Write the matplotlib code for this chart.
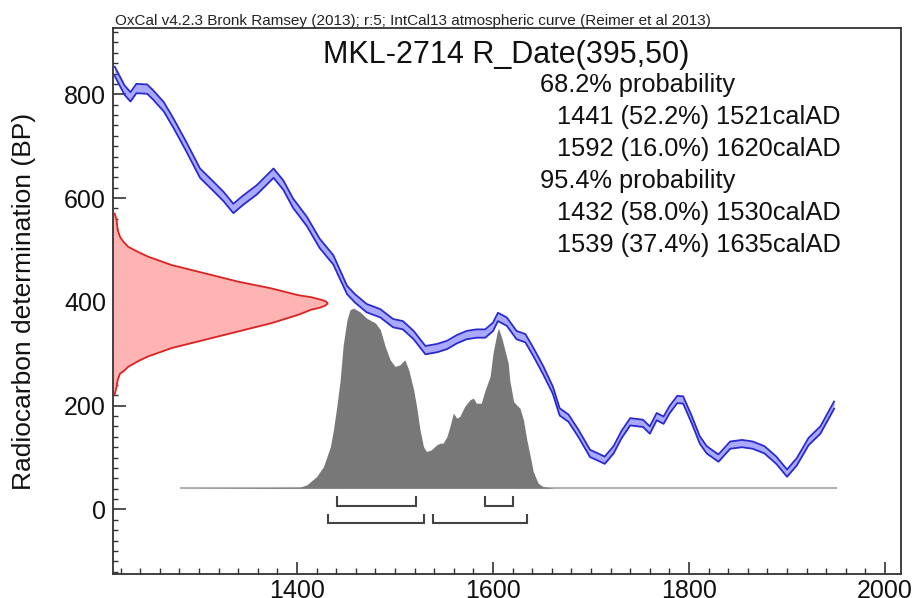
import matplotlib
matplotlib.use("Agg")
import matplotlib.pyplot as plt
import numpy as np

plt.rcParams['font.family'] = ['Liberation Sans', 'DejaVu Sans']

# ---------------- data ----------------
# calibration curve (IntCal13), cal AD vs radiocarbon BP
curve_year = [1214, 1224, 1230, 1236, 1247, 1253, 1264, 1274, 1287, 1301, 1315, 1325,
              1335, 1345, 1359, 1376, 1386, 1396, 1410, 1423, 1437, 1451, 1459, 1471,
              1485, 1498, 1508, 1519, 1531, 1543, 1553, 1563, 1573, 1583, 1592, 1600,
              1605, 1614, 1624, 1633, 1641, 1651, 1661, 1668, 1677, 1687, 1699, 1706,
              1714, 1723, 1731, 1740, 1753, 1760, 1767, 1774, 1780, 1788, 1794, 1803,
              1811, 1818, 1830, 1842, 1854, 1865, 1877, 1889, 1900, 1910, 1922, 1934, 1948]
curve_bp = [844, 808, 795, 811, 810, 799, 776, 744, 699, 648, 622, 603,
            580, 596, 616, 648, 625, 590, 555, 513, 481, 423, 407, 388,
            378, 359, 355, 336, 307, 311, 317, 328, 336, 339, 339, 352,
            371, 362, 336, 330, 304, 269, 230, 188, 176, 147, 108, 102,
            95, 115, 144, 169, 166, 153, 179, 172, 192, 212, 211, 172,
            134, 115, 99, 124, 127, 124, 115, 95, 70, 92, 131, 153, 201]
curve_err = [9, 9, 9, 9, 9, 9, 9, 9, 9, 9, 9, 9,
             9, 9, 9, 9, 9, 9, 9, 9, 9, 8, 8, 8,
             8, 8, 8, 8, 8, 8, 8, 8, 8, 8, 8, 8,
             8, 8, 8, 8, 8, 8, 7, 7, 7, 7, 7, 7,
             7, 7, 7, 7, 7, 7, 7, 7, 7, 7, 7, 7,
             7, 7, 7, 7, 7, 7, 7, 7, 7, 7, 7, 7, 7]

# measured radiocarbon date distribution R_Date(395,50) (relative density)
meas_bp = [222, 237, 250, 262, 266, 275, 286, 295, 311, 327, 343, 359, 375, 385, 389,
           393, 397, 400.5, 404, 409, 413, 426, 439, 455, 471, 487, 496, 506, 516,
           525, 538, 557, 570]
meas_dens = [0.008, 0.017, 0.022, 0.033, 0.048, 0.071, 0.118, 0.164, 0.273, 0.428,
             0.583, 0.738, 0.862, 0.924, 0.965, 0.99, 1.0, 0.994, 0.971, 0.924, 0.862,
             0.738, 0.583, 0.428, 0.273, 0.164, 0.118, 0.071, 0.048, 0.033, 0.022,
             0.017, 0.008]

# calibrated date distribution (relative probability)
cal_year = [1282, 1403, 1410, 1420, 1427, 1434, 1437, 1440.5, 1444, 1447, 1451, 1454,
            1457.5, 1464, 1471, 1480, 1485, 1490, 1495, 1500, 1505, 1510, 1514,
            1519, 1522, 1525.5, 1529, 1532, 1537, 1542.5, 1546, 1549, 1553, 1556,
            1559.5, 1563, 1566, 1571, 1576.5, 1580, 1583, 1588, 1592, 1597, 1600,
            1604, 1605.5, 1609, 1612, 1615.5, 1617, 1621, 1624, 1627.5, 1631, 1634.5,
            1638, 1641, 1646, 1651, 1662, 1950]
cal_prob = [0.0, 0.005, 0.019, 0.065, 0.12, 0.23, 0.32, 0.45, 0.60, 0.79, 0.935, 0.99,
            1.0, 0.98, 0.944, 0.917, 0.88, 0.787, 0.713, 0.676, 0.685, 0.713, 0.657,
            0.546, 0.454, 0.324, 0.231, 0.204, 0.213, 0.241, 0.25, 0.25, 0.287, 0.343,
            0.417, 0.389, 0.398, 0.454, 0.491, 0.5, 0.472, 0.472, 0.546, 0.62, 0.75,
            0.861, 0.889, 0.833, 0.769, 0.694, 0.602, 0.481, 0.463, 0.444, 0.38, 0.269,
            0.176, 0.093, 0.028, 0.009, 0.0, 0.0]

# highest probability density ranges
ranges_68 = [(1441, 1521), (1592, 1620)]
ranges_95 = [(1432, 1530), (1539, 1635)]

top_note = "OxCal v4.2.3 Bronk Ramsey (2013); r:5; IntCal13 atmospheric curve (Reimer et al 2013)"
title = "MKL-2714 R_Date(395,50)"
stats_lines = ["68.2% probability",
               "1441 (52.2%) 1521calAD",
               "1592 (16.0%) 1620calAD",
               "95.4% probability",
               "1432 (58.0%) 1530calAD",
               "1539 (37.4%) 1635calAD"]
stats_indent = [False, True, True, False, True, True]

# ---------------- figure ----------------
W, H = 915, 598
fig = plt.figure(figsize=(W / 100, H / 100), dpi=100)
L, R, T, B = 113, 901, 28, 574
ax = fig.add_axes([L / W, 1 - B / H, (R - L) / W, (B - T) / H])

xmin, xmax = 1212.2, 2016.3
ymin, ymax = -124.3, 927.7
ax.set_xlim(xmin, xmax)
ax.set_ylim(ymin, ymax)

# calibrated distribution
base = 41
scale = 347
cy = np.array(cal_year)
cp = np.array(cal_prob)
ax.plot([cal_year[0], cal_year[-1]], [base, base], color='#b0b0b0', lw=1.5, zorder=2)
ax.fill_between(cy, base, base + cp * scale, color='#787878', lw=0, zorder=3)

# measurement distribution on the y axis
mb = np.array(meas_bp)
md = np.array(meas_dens)
red_w = 219
ax.fill_betweenx(mb, xmin, xmin + md * red_w, color='#ffb4b4', lw=0, zorder=2)
ax.plot(xmin + md * red_w, mb, color='#dd2222', lw=1.3, zorder=4)

# calibration curve band
yr = np.array(curve_year)
bp = np.array(curve_bp)
er = np.array(curve_err)
ax.fill_between(yr, bp - er, bp + er, color='#5555ff', alpha=0.5, lw=0, zorder=5)
ax.plot(yr, bp + er, color='#2a2ad0', lw=1.3, zorder=6)
ax.plot(yr, bp - er, color='#2a2ad0', lw=1.3, zorder=6)

# range brackets
def bracket(r, ylow, yhigh):
    ax.plot([r[0], r[0], r[1], r[1]], [yhigh, ylow, ylow, yhigh],
            color='#444444', lw=1.5, zorder=4, solid_joinstyle='miter')

for r in ranges_68:
    bracket(r, 6.7, 24)
for r in ranges_95:
    bracket(r, -26.6, -10.6)

# axes styling
for s in ax.spines.values():
    s.set_color('#333333')
    s.set_linewidth(1.3)
ax.set_xticks([1400, 1600, 1800, 2000])
ax.set_xticks(np.arange(1220, 2016, 20), minor=True)
ax.set_yticks([0, 200, 400, 600, 800])
ax.set_yticks(np.arange(-120, 927, 20), minor=True)
ax.tick_params(axis='x', which='major', direction='in', length=8.6, width=1.2,
               color='#333333', labelsize=18, pad=3.5, top=False)
ax.tick_params(axis='x', which='minor', direction='in', length=4.3, width=1.0,
               color='#333333', top=False)
ax.tick_params(axis='y', which='major', direction='in', length=9.4, width=1.2,
               color='#333333', labelsize=18, pad=5, right=False)
ax.tick_params(axis='y', which='minor', direction='in', length=3.6, width=1.0,
               color='#333333', right=False)
ax.xaxis.set_tick_params(labelcolor='#111111')
ax.yaxis.set_tick_params(labelcolor='#111111')

fig.text(24 / W, 1 - 301 / H, "Radiocarbon determination (BP)", rotation=90,
         ha='center', va='center', fontsize=19, color='#111111')

fig.text(115 / W, 1 - 25 / H, top_note, ha='left', va='baseline', fontsize=11,
         color='#222222')
fig.text(323 / W, 1 - 63 / H, title, ha='left', va='baseline', fontsize=22,
         color='#111111')
for i, (line, ind) in enumerate(zip(stats_lines, stats_indent)):
    x = 557 if ind else 540
    yb = 92 + 32 * i
    fig.text(x / W, 1 - yb / H, line, ha='left', va='baseline', fontsize=18.3,
             color='#111111')

fig.savefig("out.png", dpi=100)
